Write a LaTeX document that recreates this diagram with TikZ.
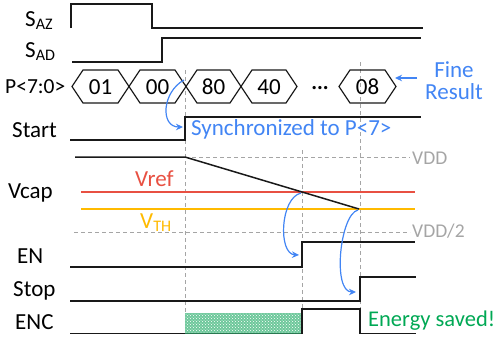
\documentclass[tikz,border=0pt]{standalone}
\usepackage{fontspec}
\setmainfont{Carlito}
\usetikzlibrary{arrows.meta,patterns}
\definecolor{sigblk}{RGB}{25,25,25}
\definecolor{myblue}{RGB}{66,133,244}
\definecolor{myred}{RGB}{232,80,66}
\definecolor{myorange}{RGB}{255,186,0}
\definecolor{mygray}{RGB}{165,165,165}
\definecolor{mygreen}{RGB}{0,168,84}
\definecolor{encfill}{RGB}{110,200,155}
\definecolor{encedge}{RGB}{40,120,80}
\tikzset{
  sig/.style={draw=sigblk,line width=1.5pt,line join=miter},
  guide/.style={draw=mygray,line width=0.9pt,dash pattern=on 4pt off 3pt},
  lbl/.style={font=\fontsize{23}{26}\selectfont,inner sep=0pt,anchor=base west},
  glbl/.style={font=\fontsize{19.5}{22}\selectfont,inner sep=0pt,anchor=base west,text=mygray},
  hexlbl/.style={font=\fontsize{23}{26}\selectfont,inner sep=0pt},
  barrow/.style={draw=myblue,line width=1.2pt,-{Stealth[length=7pt,width=6.5pt]}}
}
\begin{document}
\begin{tikzpicture}[x=1pt,y=-1pt]
\useasboundingbox (0,0) rectangle (500,338);
% labels
\node[lbl] (saz) at (25,26) {S\textsubscript{AZ}};
\node[lbl] (sad) at (25,57) {S\textsubscript{AD}};
\node[lbl,font=\fontsize{21.5}{24}\selectfont] (p) at (5,93) {P<7:0>};
\node[lbl] (start) at (12,137) {Start};
\node[lbl] (vcap) at (8,198) {Vcap};
\node[lbl] (en) at (17,263) {EN};
\node[lbl] (stop) at (13,296) {Stop};
\node[lbl] (enc) at (15,329) {ENC};
% guides
\draw[guide] (185,70) -- (185,334);
\draw[guide] (302,150) -- (302,334);
\draw[guide] (360,62) -- (360,334);
\draw[guide] (185,157) -- (410,157);
\draw[guide] (74,232) -- (410,232);
\node[glbl] (vdd) at (412,164) {VDD};
\node[glbl] (vdd2) at (412,237) {VDD/2};
% S_AZ, S_AD
\draw[sig] (71,28) -- (71,4) -- (152,4) -- (152,28) -- (423,28);
\draw[sig] (72,62) -- (162,62) -- (162,38) -- (421,38);
% hexagons
\foreach \l/\r/\t/\n in {72/129/01/h1,129/186/00/h2,186/241/80/h3,241/297/40/h4,339/396/08/h5}{
  \draw[sig,line width=1.2pt] (\l,86.5) -- (\l+11,70) -- (\r-11,70) -- (\r,86.5) -- (\r-11,103) -- (\l+11,103) -- cycle;
  \node[hexlbl] (\n) at ({(\l+\r)/2},87) {\t};
}
\node[hexlbl] (dots) at (320,90) {···};
% Fine result
\node[font=\fontsize{23}{22}\selectfont,text=myblue,align=center,inner sep=0pt] (fine) at (454,81) {Fine\\Result};
\coordinate (fa) at (417,78);
\coordinate (fb) at (395,78);
\draw[barrow] (fa) -- (fb);
% Start
\draw[sig] (70,140) -- (185,140) -- (185,117) -- (421,117);
\node[lbl,text=myblue] (sync) at (191,135) {Synchronized to P<7>};
\coordinate (s1) at (184,80);
\coordinate (s2) at (183,127);
\draw[barrow] (s1) .. controls (162,92) and (160,127) .. (s2);
% Vcap
\draw[draw=myred,line width=1.2pt] (81,192) -- (415,192);
\draw[draw=myorange,line width=1.2pt] (81,209) -- (415,209);
\node[lbl,text=myred] (vref) at (135,186) {Vref};
\node[lbl,text=myorange] (vth) at (140,228) {V\textsubscript{TH}};
\draw[sig] (75,157) -- (185,157) -- (359,209);
% EN
\draw[sig] (70,267) -- (302,267) -- (302,242) -- (415,242);
% Stop
\draw[sig] (70,301) -- (360,301) -- (360,277) -- (416,277);
% ENC
\fill[encfill] (185,313) rectangle (302,334);
\fill[pattern=crosshatch dots,pattern color=white] (185,313) rectangle (302,334);
\draw[encedge,line width=1.2pt] (185,333.5) -- (302,333.5);
\draw[sig] (70,333.5) -- (185,333.5);
\draw[sig] (302,333.5) -- (302,309) -- (360,309) -- (360,333.5) -- (416,333.5);
\node[lbl,text=mygreen,font=\fontsize{22.5}{26}\selectfont] (saved) at (368,326) {Energy saved!};
% curved arrows
\coordinate (a1) at (301,193);
\coordinate (a2) at (299,255);
\draw[barrow] (a1) .. controls (280,198) and (278,254) .. (a2);
\coordinate (b1) at (358,210);
\coordinate (b2) at (356,292);
\draw[barrow] (b1) .. controls (340,214) and (332,292) .. (b2);
\end{tikzpicture}
\end{document}
